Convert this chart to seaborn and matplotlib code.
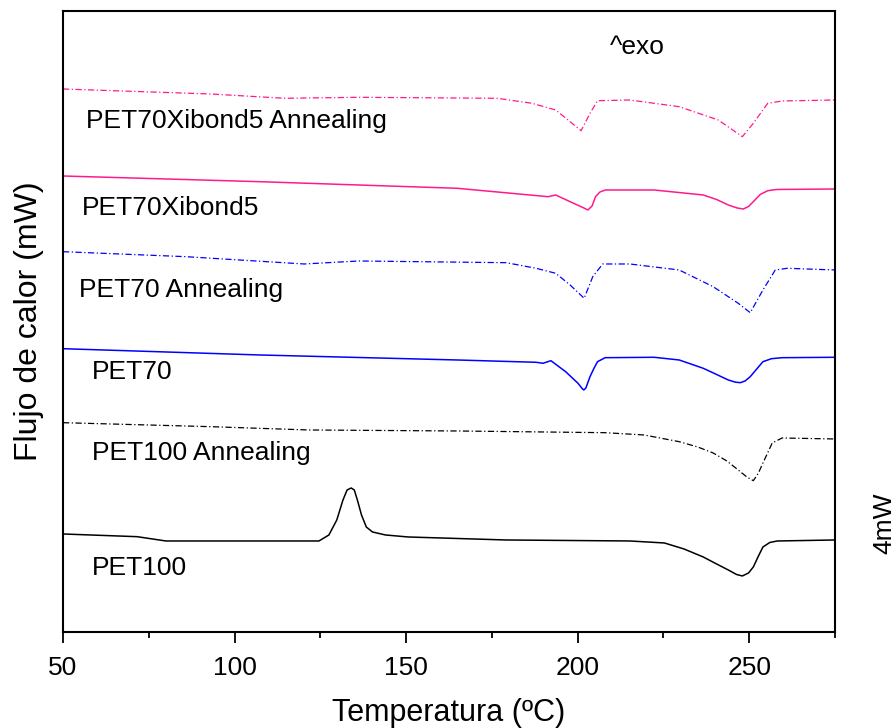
import matplotlib
matplotlib.use("Agg")
import matplotlib.pyplot as plt
import seaborn as sns
import pandas as pd

# Temperature (ºC) and heat flow (arbitrary offset units)
pet100_T = [50, 71.6, 80, 124.6, 127.5, 129.8, 131.6, 132.8, 134, 134.9, 135.8, 137.0, 138.4, 140.2, 144, 150.6, 179.2, 215.2, 225.3, 231, 236.6, 240.5, 243.9, 246.3, 248, 249.8, 251.2, 252.7, 254, 256, 258.2, 275]
pet100_Q = [98, 95.3, 91, 91, 97, 112, 132, 142, 144, 142, 132, 117, 105, 100, 97, 95, 92, 91, 89, 83, 75, 68, 62, 57.5, 56, 59, 65, 76, 85, 89.5, 91, 92]

pet100a_T = [50, 93.1, 121.7, 164.9, 208, 219.4, 229.6, 235, 239.5, 243.5, 246.8, 249.3, 251.2, 252.7, 254, 255.5, 256.7, 259.6, 275]
pet100a_Q = [209.3, 205.3, 202, 201, 199.3, 197, 190.3, 185, 179, 171, 162, 155, 151.3, 159, 169, 180, 189, 194, 193]

pet70_T = [50, 107.4, 164.9, 187.9, 189.9, 192.2, 196.5, 200.1, 201.3, 201.8, 202.4, 203.6, 204.8, 205.8, 208, 222.3, 229.6, 236.6, 240.5, 243.9, 246, 247.4, 248.8, 250.3, 252.2, 254, 256.5, 259.6, 275]
pet70_Q = [283.3, 277, 272, 269.7, 268.7, 271.3, 260.3, 248.7, 243.5, 242, 244, 255.3, 264, 270.3, 274.3, 274.7, 272, 263.7, 257.5, 252, 249.8, 249.3, 251, 255.3, 263, 270.3, 273.3, 274.3, 274.7]

pet70a_T = [50, 85.9, 120.3, 136.2, 179.2, 187.9, 193.6, 197.8, 201.9, 204.4, 207.3, 215.2, 229.6, 239.5, 246.8, 250.3, 254, 257.6, 261.1, 275]
pet70a_Q = [380.3, 375.3, 368, 371, 369.3, 363.7, 358.7, 347, 333.7, 355.3, 368, 368, 362, 345.3, 328.7, 319.3, 342, 362, 363.7, 362]

xib_T = [50, 107.4, 164.9, 191.4, 193.6, 197.8, 201.5, 203, 204.2, 205.2, 206.5, 208.1, 222.3, 236.6, 240.5, 243.9, 246.5, 248.3, 249.8, 251.2, 253.2, 255.4, 258, 275]
xib_Q = [456, 450.3, 443.7, 435.3, 437, 430.3, 424.5, 422, 426, 435.3, 440, 442, 442, 437, 432.5, 427, 424, 423, 425.5, 430.3, 437.5, 441.3, 442.5, 443]

xiba_T = [50, 93.1, 114.6, 136.2, 176.6, 186.7, 193.6, 197.8, 201, 203.6, 205.8, 215.2, 229.6, 241, 248, 251.2, 255.4, 259.6, 275]
xiba_Q = [543, 538, 533.7, 534.7, 533.7, 528.7, 522, 510.3, 501.3, 518.7, 531.3, 532, 525.3, 512, 495.3, 508.7, 528.7, 531, 532]

series_names = ["PET100", "PET100 Annealing", "PET70", "PET70 Annealing",
                "PET70Xibond5", "PET70Xibond5 Annealing"]
x_ticks = [50, 100, 150, 200, 250]

frames = []
for name, T, Q in zip(series_names,
                      [pet100_T, pet100a_T, pet70_T, pet70a_T, xib_T, xiba_T],
                      [pet100_Q, pet100a_Q, pet70_Q, pet70a_Q, xib_Q, xiba_Q]):
    frames.append(pd.DataFrame({"T": T, "Q": Q, "serie": name}))
df = pd.concat(frames, ignore_index=True)

sns.set_style("white")
plt.rcParams["font.family"] = ["Liberation Sans", "DejaVu Sans"]
plt.rcParams["text.color"] = "black"
plt.rcParams["axes.labelcolor"] = "black"
plt.rcParams["xtick.color"] = "black"
plt.rcParams["ytick.color"] = "black"

fig = plt.figure(figsize=(8.96, 7.28), dpi=100)
ax = fig.add_axes([0.0703, 0.1319, 0.8616, 0.853])

pink = "#FF1A8C"
dashdot = (0, (5, 2, 1, 2))
styles = {
    "PET100": ("black", "-", 1.1),
    "PET100 Annealing": ("black", dashdot, 0.9),
    "PET70": ("#0000FF", "-", 1.1),
    "PET70 Annealing": ("#0000FF", dashdot, 0.9),
    "PET70Xibond5": (pink, "-", 1.1),
    "PET70Xibond5 Annealing": (pink, dashdot, 0.9),
}
for name in series_names:
    c, ls, lw = styles[name]
    sns.lineplot(data=df[df["serie"] == name], x="T", y="Q", ax=ax, color=c,
                 linestyle=ls, linewidth=lw, sort=False, estimator=None,
                 legend=False)

ax.set_xlim(50, 275)
ax.set_ylim(0, 621)
ax.set_xticks(x_ticks)
ax.set_xticks([75, 125, 175, 225, 275], minor=True)
ax.set_yticks([])
ax.tick_params(axis="x", which="major", direction="out", length=8, width=1.3,
               labelsize=19, bottom=True, pad=9)
ax.tick_params(axis="x", which="minor", direction="out", length=4, width=1.3,
               bottom=True)
for s in ax.spines.values():
    s.set_linewidth(1.5)
    s.set_color("black")

ax.set_xlabel("Temperatura (ºC)", fontsize=22, labelpad=13)
ax.set_ylabel("Flujo de calor (mW)", fontsize=23, labelpad=14)

labels = [("PET70Xibond5 Annealing", 86, 121), ("PET70Xibond5", 82, 208),
          ("PET70 Annealing", 79, 290), ("PET70", 92, 372),
          ("PET100 Annealing", 92, 453), ("PET100", 92, 568)]
W, H = 896, 728
for txt, px, py in labels:
    fig.text(px / W, 1 - py / H, txt, fontsize=19, ha="left", va="center")
fig.text(610 / W, 1 - 47 / H, "^exo", fontsize=19, ha="left", va="center")
fig.text(884 / W, 1 - 523 / H, "4mW", fontsize=19, ha="center", va="center",
         rotation=90)

fig.savefig("out.png", dpi=100)
